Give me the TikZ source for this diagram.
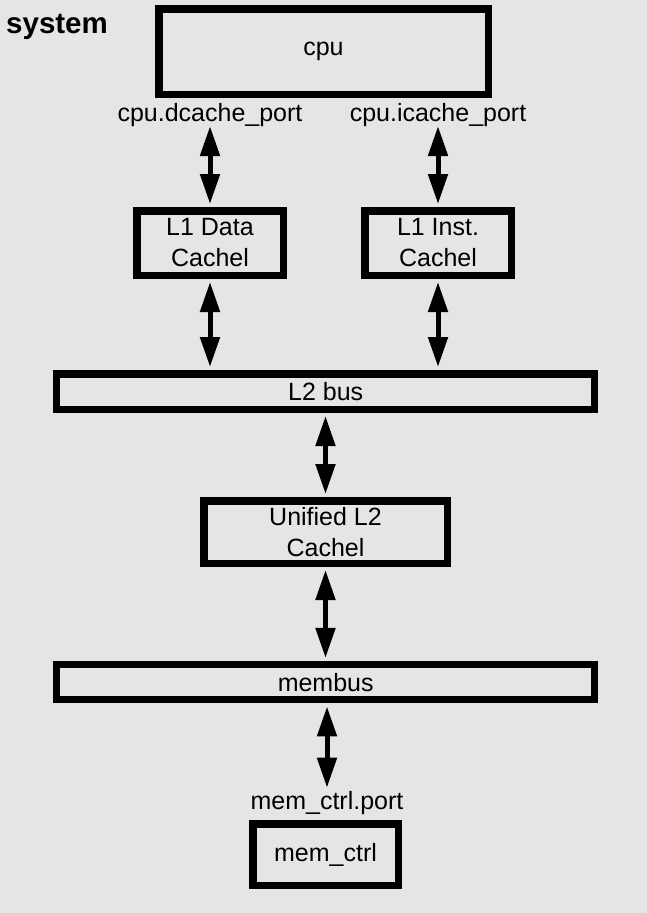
\documentclass[tikz,border=0pt]{standalone}
\usepackage{fontspec}
\setmainfont{Liberation Sans}
\usetikzlibrary{arrows.meta}
\definecolor{bggray}{RGB}{229,229,229}
\begin{document}
\begin{tikzpicture}[x=1pt, y=-1pt, font=\fontsize{25}{31}\selectfont,
	box/.style={rectangle, draw=black, line width=7.5pt, inner sep=0pt, align=center},
	port/.style={inner sep=0pt, anchor=base},
	link/.style={line width=5pt, {Triangle[length=30pt,width=19pt]}-{Triangle[length=30pt,width=19pt]}, shorten <=3pt, shorten >=3pt}]
	\fill[bggray] (0,0) rectangle (647,913);
	\useasboundingbox (0,0) rectangle (647,913);
	\node (sys) at (6, 33)	[inner sep=0pt, anchor=base west, font=\fontsize{29.5}{34}\selectfont\bfseries]	{system};
	\node (cpu) at (323.5, 51.5)	[box, minimum width=329.5pt, minimum height=85.5pt]	{cpu};
	\node (dport) at (210, 121.7)	[port]	{cpu.dcache\_port};
	\node (iport) at (438, 121.7)	[port]	{cpu.icache\_port};
	\node (L1D) at (210, 243)	[box, minimum width=146.5pt, minimum height=64.5pt]	{L1 Data\\Cachel};
	\node (L1I) at (438, 243)	[box, minimum width=146.5pt, minimum height=64.5pt]	{L1 Inst.\\Cachel};
	\node (L2bus) at (325.7, 391.5)	[box, minimum width=538pt, minimum height=35.5pt]	{L2 bus};
	\node (L2) at (325.5, 532)	[box, minimum width=243.5pt, minimum height=62.5pt]	{Unified L2\\Cachel};
	\node (membus) at (325.7, 682.2)	[box, minimum width=538pt, minimum height=35pt]	{membus};
	\node (mport) at (327, 809)	[port]	{mem\_ctrl.port};
	\node (memctrl) at (325.5, 854.5)	[box, minimum width=145.5pt, minimum height=61.5pt]	{mem\_ctrl};
	\draw[link, shorten <=-1pt] (dport.south) -- (L1D.north);
	\draw[link, shorten <=-1pt] (iport.south) -- (L1I.north);
	\draw[link] (L1D.south) -- (L1D.south |- L2bus.north);
	\draw[link] (L1I.south) -- (L1I.south |- L2bus.north);
	\draw[link] (L2bus.south -| L2.north) -- (L2.north);
	\draw[link] (L2.south) -- (L2.south |- membus.north);
	\draw[link] (membus.south -| mport.north) -- (mport.north);
\end{tikzpicture}
\end{document}
